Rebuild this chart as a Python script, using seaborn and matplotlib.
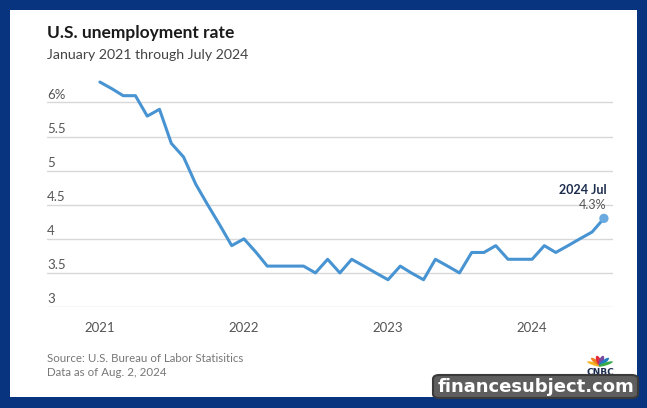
import math
import matplotlib.pyplot as plt
import matplotlib.transforms as mtransforms
from matplotlib.patches import FancyBboxPatch, Ellipse
import seaborn as sns
import pandas as pd

sns.set_style("white")
plt.rcParams['font.family'] = ['Lato', 'DejaVu Sans']

# monthly unemployment rate, Jan 2021 .. Jul 2024
rate_2021 = [6.3, 6.2, 6.1, 6.1, 5.8, 5.9, 5.4, 5.2, 4.8, 4.5, 4.2, 3.9]
rate_2022 = [4.0, 3.8, 3.6, 3.6, 3.6, 3.6, 3.5, 3.7, 3.5, 3.7, 3.6, 3.5]
rate_2023 = [3.4, 3.6, 3.5, 3.4, 3.7, 3.6, 3.5, 3.8, 3.8, 3.9, 3.7, 3.7]
rate_2024 = [3.7, 3.9, 3.8, 3.9, 4.0, 4.1, 4.3]
rates = rate_2021 + rate_2022 + rate_2023 + rate_2024
months = pd.date_range("2021-01-01", periods=len(rates), freq="MS")
df = pd.DataFrame({"month": months, "rate": rates})

y_ticks = [3, 3.5, 4, 4.5, 5, 5.5, 6]
y_labels = ["3", "3.5", "4", "4.5", "5", "5.5", "6%"]
year_ticks = ["2021", "2022", "2023", "2024"]

W, H = 647, 408
fig = plt.figure(figsize=(W / 100, H / 100), dpi=100, facecolor="#07337f")
# white card
card = fig.add_axes([10 / W, 11 / H, 627 / W, 387 / H], zorder=-1)
card.set_facecolor("white")
card.set_xticks([])
card.set_yticks([])
for s in card.spines.values():
    s.set_visible(False)

ax = fig.add_axes([47 / W, 101 / H, 566 / W, 227 / H], zorder=1)
ax.set_facecolor("none")
sns.lineplot(data=df, x="month", y="rate", ax=ax, color="#4894d2", linewidth=2.2,
             solid_joinstyle="round", solid_capstyle="round", zorder=3)
last = df.iloc[-1]
ax.scatter([last["month"]], [last["rate"]], s=45, color="#6aaae0", zorder=4, edgecolor="none")

ax.set_ylim(3, 6.33)
ax.set_xlim(pd.Timestamp("2020-08-20"), pd.Timestamp("2024-07-24"))
ax.set_yticks(y_ticks)
ax.set_yticklabels([])
ax.tick_params(axis="y", length=0)
ax.grid(axis="y", color="#d8d8d8", linewidth=1)
ax.grid(axis="x", visible=False)
for s in ax.spines.values():
    s.set_visible(False)

ax.set_xticks([pd.Timestamp(f"{y}-01-01") for y in year_ticks])
ax.set_xticklabels(year_ticks, color="#555555", fontsize=9.5)
ax.tick_params(axis="x", length=4, width=1, color="#333333", pad=7, direction="out")
ax.set_xlabel("")
ax.set_ylabel("")

lab_tr = mtransforms.offset_copy(ax.get_yaxis_transform(), fig=fig, x=0, y=1.2, units="points")
for v, t in zip(y_ticks, y_labels):
    ax.text(0, v, t, transform=lab_tr, ha="left", va="bottom", fontsize=9.5, color="#555555")

# end label
end_tr = mtransforms.offset_copy(ax.transData, fig=fig, x=2, y=0, units="points")
ax.text(last["month"], 4.72, "2024 Jul", transform=end_tr, ha="right", va="center",
        fontsize=9, fontweight="bold", color="#1c2c4f")
ax.text(last["month"], 4.5, "4.3%", transform=end_tr, ha="right", va="center",
        fontsize=9, color="#555555")

# titles & source
fig.text(47 / W, 1 - 33 / H, "U.S. unemployment rate", fontsize=12.5, fontweight="bold",
         color="#1a1a1a", va="center")
fig.text(47 / W, 1 - 55 / H, "January 2021 through July 2024", fontsize=10.2,
         color="#444444", va="center")
fig.text(47 / W, 1 - 358 / H, "Source: U.S. Bureau of Labor Statisitics", fontsize=8.3,
         color="#777777", va="center")
fig.text(47 / W, 1 - 373 / H, "Data as of Aug. 2, 2024", fontsize=8.3,
         color="#777777", va="center")

# CNBC mark
feathers = ["#f5b520", "#ef7d22", "#e0293a", "#7b4aa0", "#1f7dc2", "#3bab49"]
cx, cy = 600, 367
for i, c in enumerate(feathers):
    ang = 152 - i * 24.8
    dx = 6.5 * math.cos(math.radians(ang))
    dy = 6.5 * math.sin(math.radians(ang))
    fig.patches.append(Ellipse(((cx + dx) / W, 1 - (cy - dy) / H), 4.6 / W, 10 / H, angle=ang - 90,
                               transform=fig.transFigure, facecolor=c, edgecolor="none", zorder=2))
fig.text(600 / W, 1 - 372.5 / H, "CNBC", fontsize=6.5, fontweight="bold", color="#1c2c4f",
         ha="center", va="center", family="DejaVu Sans")

# watermark
fig.patches.append(FancyBboxPatch((433 / W, 10 / H), 205 / W, 23 / H, transform=fig.transFigure,
                                  boxstyle="round,pad=0,rounding_size=0.01",
                                  facecolor="#5e5e5e", edgecolor="#3a3a3a", linewidth=1.5, zorder=5))
fig.text(536 / W, 1 - 387 / H, "financesubject.com", fontsize=13, fontweight="bold",
         color="white", ha="center", va="center", zorder=6, family="DejaVu Sans")

fig.savefig("out.png", dpi=100, facecolor=fig.get_facecolor())
